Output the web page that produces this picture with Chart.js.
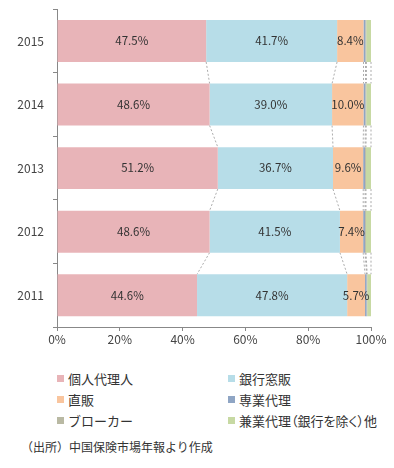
<!DOCTYPE html>
<html><head><meta charset="utf-8">
<script src="https://cdn.jsdelivr.net/npm/chart.js@4"></script>
<style>
html,body{margin:0;padding:0;background:#fff;width:394px;height:468px;overflow:hidden;font-family:"Noto Sans CJK JP","Noto Sans",sans-serif;color:#333;}
#wrap{position:absolute;left:0;top:-7px;width:394px;height:367px;}
#legend{position:absolute;left:0;top:369px;width:394px;font-size:13px;}
.li{position:absolute;height:20px;line-height:20px;white-space:nowrap;}
.sw{display:inline-block;width:7px;height:7px;margin-right:4px;vertical-align:2px;}
.palt{font-feature-settings:"palt";}
#note{position:absolute;left:21px;top:437px;font-size:12px;line-height:20px;}
</style></head><body>
<div id="wrap"><canvas id="c"></canvas></div>
<div id="legend"></div>
<div id="note">（出所）中国保険市場年報より作成</div>
<script>
const years = ["2015","2014","2013","2012","2011"];
const seriesNames = ["個人代理人","銀行窓販","直販","専業代理","ブローカー","兼業代理（銀行を除く）他"];
const kojin   = [47.5, 48.6, 51.2, 48.6, 44.6];
const ginko   = [41.7, 39.0, 36.7, 41.5, 47.8];
const chokuhan= [8.4, 10.0, 9.6, 7.4, 5.7];
const sengyo  = [0.6, 0.6, 0.6, 0.6, 0.5];
const broker  = [0.3, 0.3, 0.3, 0.3, 0.2];
const kengyo  = [1.5, 1.5, 1.6, 1.6, 1.2];
const xTicks = ["0%","20%","40%","60%","80%","100%"];
const colors = ["#E8B4B8","#B7DDE8","#F9C59E","#8FA5C4","#B9B9A3","#C7D9A3"];
const allData = [kojin, ginko, chokuhan, sengyo, broker, kengyo];
const labeled = [true,true,true,false,false,false];

const datasets = allData.map((d,i)=>({label:seriesNames[i],data:d,backgroundColor:colors[i],borderWidth:0,barPercentage:0.66,categoryPercentage:1}));

const FONT = '"Noto Sans CJK JP","Noto Sans",sans-serif';

const seriesLines = {
  id:'seriesLines',
  beforeDatasetsDraw(chart){
    const ctx = chart.ctx;
    const xs = chart.scales.x;
    const n = years.length;
    ctx.save();
    ctx.strokeStyle = '#888';
    ctx.lineWidth = 0.7;
    ctx.setLineDash([2,2]);
    const m0 = chart.getDatasetMeta(0);
    for (let k=0;k<allData.length;k++){
      for (let i=0;i<n-1;i++){
        let c1=0,c2=0;
        for (let j=0;j<=k;j++){c1+=allData[j][i];c2+=allData[j][i+1];}
        const b1 = m0.data[i], b2 = m0.data[i+1];
        ctx.beginPath();
        ctx.moveTo(xs.getPixelForValue(Math.min(c1,100)), b1.y + b1.height/2);
        ctx.lineTo(xs.getPixelForValue(Math.min(c2,100)), b2.y - b2.height/2);
        ctx.stroke();
      }
    }
    ctx.restore();
  },
  afterDatasetsDraw(chart){
    const ctx = chart.ctx;
    ctx.save();
    ctx.font = '11.5px '+FONT;
    ctx.fillStyle = '#333';
    ctx.textAlign='center';
    ctx.textBaseline='middle';
    allData.forEach((d,k)=>{
      if(!labeled[k]) return;
      const meta = chart.getDatasetMeta(k);
      meta.data.forEach((bar,i)=>{
        const cx = (bar.x + bar.base)/2;
        ctx.fillText(d[i].toFixed(1)+'%', cx, bar.y);
      });
    });
    ctx.restore();
  }
};

new Chart(document.getElementById('c'),{
  type:'bar',
  data:{labels:years,datasets},
  options:{
    indexAxis:'y',
    responsive:true,maintainAspectRatio:false,animation:false,
    layout:{padding:{top:0,right:23,left:0,bottom:0}},
    plugins:{legend:{display:false},tooltip:{enabled:false}},
    scales:{
      x:{stacked:true,min:0,max:100,
        grid:{display:true,drawOnChartArea:false,drawTicks:true,tickLength:4,color:'#888'},
        border:{display:true,color:'#888',width:1},
        ticks:{stepSize:20,color:'#444',font:{family:FONT,size:12},padding:1,
          callback:(v,i)=>xTicks[i]},
        afterFit(s){s.height=33;}
      },
      y:{stacked:true,
        grid:{display:true,drawOnChartArea:false,offset:true,tickLength:4,color:'#888'},
        border:{display:true,color:'#888',width:1},
        ticks:{color:'#444',font:{family:FONT,size:12},padding:9},
        afterFit(s){s.width=57;}
      }
    }
  },
  plugins:[seriesLines]
});

const leg = document.getElementById('legend');
const pos = [[57,0],[228,0],[57,21],[228,21],[57,42],[228,42]];
seriesNames.forEach((n,i)=>{
  const d=document.createElement('div');d.className='li'+(i===5?' palt':'');
  d.style.left=pos[i][0]+'px';d.style.top=pos[i][1]+'px';
  d.innerHTML='<span class="sw" style="background:'+colors[i]+'"></span>'+n;
  leg.appendChild(d);
});
</script>
</body></html>
